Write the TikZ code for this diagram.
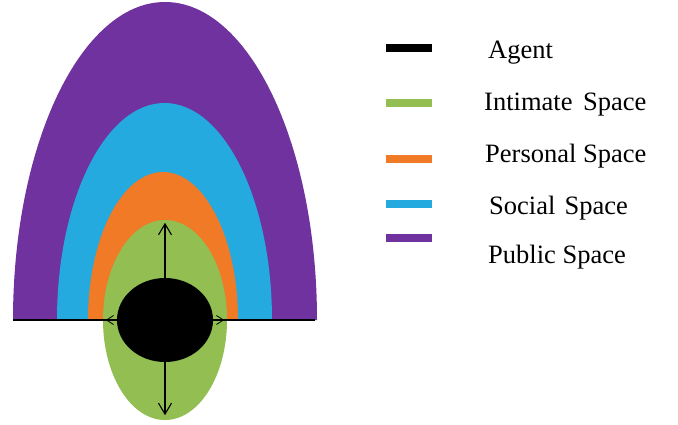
\documentclass[tikz,border=0pt]{standalone}
\usepackage{fontspec}
\setmainfont{Liberation Serif}
\usetikzlibrary{arrows.meta,shapes.geometric}
\definecolor{agentc}{RGB}{0,0,0}
\definecolor{intimatec}{RGB}{146,190,82}
\definecolor{personalc}{RGB}{240,122,38}
\definecolor{socialc}{RGB}{36,170,222}
\definecolor{publicc}{RGB}{112,50,158}
\begin{document}
\begin{tikzpicture}[x=1pt,y=1pt,
  swatch/.style={line width=8pt},
  label/.style={anchor=base west,inner sep=0pt,font=\fontsize{26.5}{30}\selectfont},
  axis/.style={line width=1.6pt},
  reach/.style={line width=1.1pt,-{Straight Barb[length=11pt,width=13pt,line width=1.1pt]}},
  side/.style={line width=0.8pt,-{Straight Barb[length=7pt,width=9pt,line width=0.8pt]}}]
\useasboundingbox (0,0) rectangle (678,-424);
\fill[white] (0,0) rectangle (678,-424);

% nested half-ellipses of the outer spaces
\fill[publicc] (13,-320) arc[start angle=180,end angle=0,x radius=152,y radius=318] -- cycle;
\fill[socialc] (57,-320) arc[start angle=180,end angle=0,x radius=107.5,y radius=217] -- cycle;
\fill[personalc] (88,-320) arc[start angle=180,end angle=0,x radius=75,y radius=148] -- cycle;

% intimate space and the agent
\node[ellipse,fill=intimatec,minimum width=124pt,minimum height=200pt,inner sep=0pt] (intimate) at (165,-320) {};
\coordinate (gl) at (13,-320);
\coordinate (gr) at (315,-320);
\draw[axis] (gl) -- (gr);
\node[ellipse,fill=agentc,minimum width=96pt,minimum height=84pt,inner sep=0pt] (agent) at (165,-320) {};

% reach of the intimate space
\draw[reach] (agent.north) -- ([yshift=-3pt]intimate.north);
\draw[reach] (agent.south) -- ([yshift=5pt]intimate.south);
\draw[side] (agent.west) -- ([xshift=3pt]intimate.west);
\draw[side] (agent.east) -- ([xshift=-3pt]intimate.east);

% legend
\coordinate (s1a) at (386,-48);  \coordinate (s1b) at (432,-48);
\coordinate (s2a) at (386,-103); \coordinate (s2b) at (432,-103);
\coordinate (s3a) at (386,-159); \coordinate (s3b) at (432,-159);
\coordinate (s4a) at (386,-204); \coordinate (s4b) at (432,-204);
\coordinate (s5a) at (386,-238); \coordinate (s5b) at (432,-238);
\draw[swatch,agentc] (s1a) -- (s1b);
\draw[swatch,intimatec] (s2a) -- (s2b);
\draw[swatch,personalc] (s3a) -- (s3b);
\draw[swatch,socialc] (s4a) -- (s4b);
\draw[swatch,publicc] (s5a) -- (s5b);
\node[label] (l1) at (488,-58) {Agent};
\node[label] (l2) at (484,-110) {Intimate\hspace{0.4em}Space};
\node[label] (l3) at (485,-162) {Personal Space};
\node[label] (l4) at (489,-214) {Social\hspace{0.35em}Space};
\node[label] (l5) at (488,-263) {Public Space};
\end{tikzpicture}
\end{document}
